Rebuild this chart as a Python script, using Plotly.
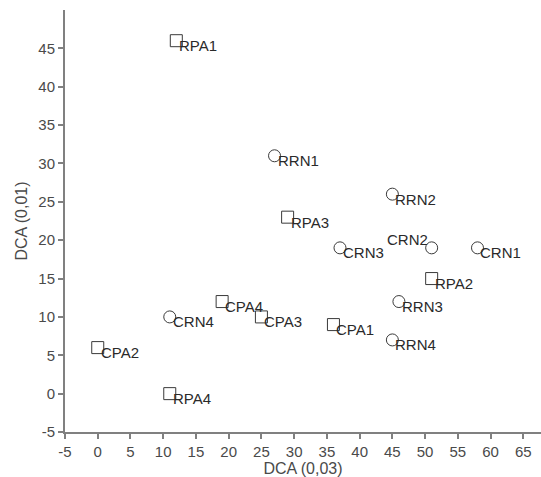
import plotly.graph_objects as go

labels = ["RPA1", "RRN1", "RRN2", "RPA3", "CRN2", "CRN3", "CRN1", "RPA2",
          "RRN3", "CPA1", "RRN4", "CPA3", "CPA4", "CRN4", "CPA2", "RPA4"]
x_vals = [12, 27, 45, 29, 51, 37, 58, 51, 46, 36, 45, 25, 19, 11, 0, 11]
y_vals = [46, 31, 26, 23, 19, 19, 19, 15, 12, 9, 7, 10, 12, 10, 6, 0]
shapes = ["square", "circle", "circle", "square", "circle", "circle", "circle", "square",
          "circle", "square", "circle", "square", "square", "circle", "square", "square"]

x_ticks = list(range(-5, 70, 5))
y_ticks = list(range(-5, 50, 5))
x_tick_text = [str(v) for v in x_ticks]
y_tick_text = [str(v) for v in y_ticks]

FONT = "Liberation Sans, Arial, sans-serif"

fig = go.Figure()
fig.add_trace(go.Scatter(
    x=x_vals, y=y_vals, mode="markers",
    marker=dict(symbol=[s + "-open" for s in shapes], size=12,
                color="#3a3a3a", line=dict(width=1, color="#3a3a3a")),
    hoverinfo="skip", showlegend=False,
))

annotations = []
for lab, xv, yv in zip(labels, x_vals, y_vals):
    if lab == "CRN2":
        annotations.append(dict(x=xv, y=yv, text=lab, showarrow=False,
                                xanchor="right", yanchor="middle", xshift=-2, yshift=8,
                                font=dict(size=15, color="#2a2a2a", family=FONT)))
    else:
        annotations.append(dict(x=xv, y=yv, text=lab, showarrow=False,
                                xanchor="left", yanchor="middle", xshift=1, yshift=-5,
                                font=dict(size=15, color="#2a2a2a", family=FONT)))

axis_common = dict(showgrid=False, zeroline=False, showline=True, linecolor="#808080",
                   linewidth=2, ticks="outside", ticklen=5, tickwidth=1.5, tickcolor="#808080",
                   tickfont=dict(size=15, color="#4a4a4a", family=FONT))

fig.update_layout(
    width=541, height=477,
    margin=dict(l=65, r=0, t=10, b=45),
    plot_bgcolor="white", paper_bgcolor="white",
    annotations=annotations,
    xaxis=dict(range=[-5, 67.7], tickvals=x_ticks, ticktext=x_tick_text,
               title=dict(text="DCA (0,03)", standoff=1,
                          font=dict(size=16, color="#4a4a4a", family=FONT)),
               **axis_common),
    yaxis=dict(range=[-5, 50], tickvals=y_ticks, ticktext=y_tick_text,
               title=dict(text="DCA (0,01)", standoff=7,
                          font=dict(size=16, color="#4a4a4a", family=FONT)),
               **axis_common),
)

fig.write_html("out.html", config={"displayModeBar": False},
               post_script="document.body.style.margin='0';document.body.style.overflow='hidden';")
